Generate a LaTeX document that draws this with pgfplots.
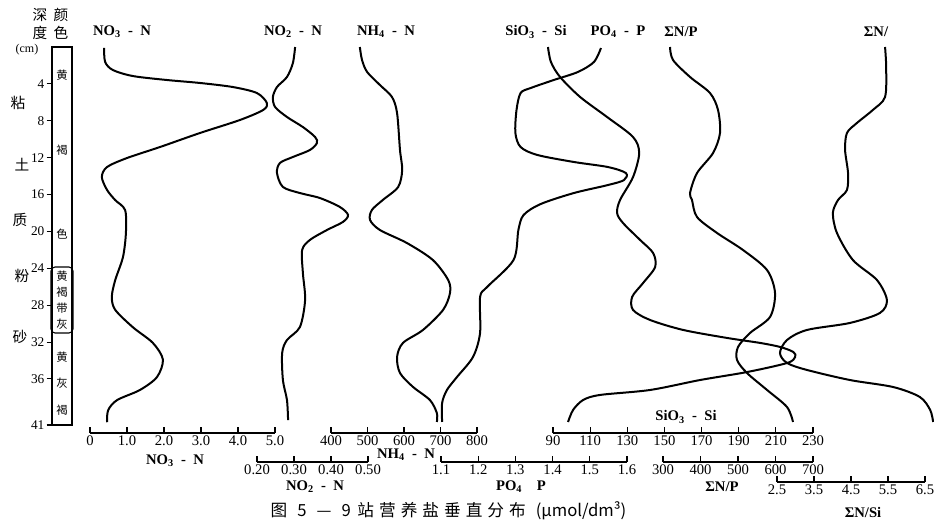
\documentclass[border=0pt]{standalone}
\usepackage{fontspec}
\setmainfont{Liberation Serif}
\newfontfamily\cjk{Noto Sans CJK SC}
\usepackage{pgfplots}
\pgfplotsset{compat=1.18}

% 1 px of the reference = 0.75pt; depth 0 cm at y=47 px, 41 cm at y=425 px
\pgfplotsset{
  prof/.style={scale only axis, hide axis, clip=false, anchor=north west,
    ymin=0, ymax=41, y dir=reverse, height=283.5pt},
  cur/.style={black, line width=1.5pt, smooth, tension=0.5, mark=none},
  scl/.style={scale only axis, clip=false, anchor=south west, height=1pt,
    ymin=0, ymax=1, hide y axis, axis x line*=bottom,
    x axis line style={-, line width=0.9pt}, tick align=inside,
    major tick length=4.5pt, tick style={black, line width=0.9pt},
    xticklabel style={font=\fontsize{11}{13}\selectfont, inner sep=2pt}},
}

\begin{document}
\begin{tikzpicture}

% depth column
\begin{axis}[scale only axis, at={(39pt,-35.25pt)}, anchor=north west,
  width=15pt, height=283.5pt, xmin=0, xmax=1, ymin=0, ymax=41, y dir=reverse,
  xtick=\empty, ytick={4,8,12,16,20,24,28,32,36,41}, ytick pos=left,
  tick align=outside, major tick length=4pt,
  axis line style={line width=0.9pt}, tick style={black, line width=0.8pt},
  yticklabel style={font=\fontsize{10}{12}\selectfont, inner sep=1.5pt},
  /pgf/number format/assume math mode=true]
\end{axis}

% NO3-N
\begin{axis}[prof, at={(67.5pt,-35.25pt)}, width=138.75pt, xmin=0, xmax=5]
\addplot[cur] coordinates {
(0.38,0.1)(0.41,1.63)(0.62,2.5)(1.16,3.15)(2.08,3.58)(2.97,3.9)(3.86,4.34)
(4.51,4.99)(4.78,6.07)(4.68,6.83)(4.05,7.92)(2.97,9.33)(1.89,10.85)(1.0,12.04)
(0.46,13.02)(0.32,14.1)(0.46,15.5)(0.68,16.6)(0.95,17.7)(0.97,20.2)(0.89,22.8)
(0.68,25.3)(0.59,27.1)(0.68,28.5)(1.16,30.4)(1.70,32.1)(1.97,33.9)(1.81,35.8)
(1.35,37.2)(0.73,38.3)(0.49,39.4)(0.46,40.7)};
\end{axis}

% NO2-N
\begin{axis}[prof, at={(192.75pt,-35.25pt)}, width=83.25pt, xmin=0.2, xmax=0.5]
\addplot[cur] coordinates {
(0.303,0)(0.297,1.74)(0.281,3.25)(0.254,4.34)(0.243,5.42)(0.249,6.51)(0.281,7.59)
(0.324,8.68)(0.357,9.76)(0.362,10.41)(0.343,11.17)(0.297,11.93)(0.262,12.58)
(0.254,13.67)(0.270,15.18)(0.316,15.84)(0.370,16.38)(0.424,17.35)(0.446,18.22)
(0.432,18.98)(0.389,19.85)(0.343,20.93)(0.322,22.02)(0.324,24.51)(0.330,27.44)
(0.316,30.37)(0.281,31.78)(0.268,33.19)(0.270,36.12)(0.281,38.29)(0.284,40.46)};
\end{axis}

% NH4-N
\begin{axis}[prof, at={(248.25pt,-35.25pt)}, width=109.5pt, xmin=400, xmax=800]
\addplot[cur] coordinates {
(479,0)(485,1.41)(499,2.71)(534,4.12)(567,5.42)(581,7.16)(589,11.17)(595,13.34)
(584,15.18)(542,16.59)(512,17.68)(507,18.76)(534,19.85)(608,21.26)(679,23.10)
(721,25.27)(726,26.68)(707,28.52)(652,30.69)(597,32.10)(581,33.62)(589,35.36)
(625,36.88)(671,38.29)(690,39.70)(690,40.67)};
\end{axis}

% PO4-P
\begin{axis}[prof, at={(330.75pt,-35.25pt)}, width=139.5pt, xmin=1.1, xmax=1.6]
\addplot[cur] coordinates {
(1.530,0.11)(1.511,1.63)(1.468,2.71)(1.403,3.58)(1.341,4.45)(1.314,4.99)
(1.303,6.83)(1.300,9.33)(1.314,10.85)(1.359,11.71)(1.457,12.47)(1.549,13.02)
(1.597,13.67)(1.592,14.43)(1.549,14.97)(1.457,15.84)(1.368,17.03)(1.322,18.22)
(1.308,19.85)(1.295,23.10)(1.224,26.03)(1.205,27.11)(1.205,31.02)(1.186,33.62)
(1.143,35.79)(1.116,37.20)(1.103,38.61)(1.103,40.67)};
\end{axis}

% SiO3-Si
\begin{axis}[prof, at={(414.75pt,-35.25pt)}, width=195pt, xmin=90, xmax=230]
\addplot[cur] coordinates {
(87.3,0)(88.9,1.63)(93.8,3.25)(104.6,5.42)(119.1,7.59)(133.1,9.76)(136.4,11.50)
(133.1,14.10)(126.1,16.59)(124.5,18.0)(127.7,19.09)(136.9,20.93)(143.9,22.34)
(145.0,23.86)(138.5,25.60)(132.6,27.11)(133.1,28.52)(142.3,29.61)(160.1,30.69)
(183.8,31.56)(201.6,32.10)(212.4,32.54)(219.4,33.08)(220.4,33.62)(216.1,34.27)
(194.6,35.25)(169.2,36.12)(142.3,37.20)(115.3,37.74)(106.2,38.29)(100.8,39.37)
(98.1,40.67)};
\end{axis}

% SumN/P
\begin{axis}[prof, at={(497.25pt,-35.25pt)}, width=112.5pt, xmin=300, xmax=700]
\addplot[cur] coordinates {
(318.7,0)(326.7,1.41)(372,3.25)(425.3,4.99)(446.7,6.83)(452,9.33)(433.4,11.50)
(390.7,13.67)(372,15.84)(377.3,16.59)(390.7,18.44)(444,20.17)(513.4,22.02)
(577.4,24.19)(598.7,26.68)(585.4,29.28)(532,31.02)(500,32.54)(497.4,33.95)
(524,35.36)(577.4,37.20)(630.7,39.05)(646.7,40.67)};
\end{axis}

% SumN/Si
\begin{axis}[prof, at={(582.75pt,-35.25pt)}, width=111pt, xmin=2.5, xmax=6.5]
\addplot[cur] coordinates {
(5.42,0)(5.45,2.17)(5.42,5.42)(5.09,6.83)(4.66,8.24)(4.39,9.33)(4.34,11.17)
(4.42,13.67)(4.39,15.51)(4.15,16.59)(4.01,18.0)(4.12,20.17)(4.55,23.10)
(5.20,25.27)(5.47,27.44)(5.28,28.85)(4.47,29.93)(3.31,30.69)(2.77,31.78)
(2.58,33.19)(2.77,34.27)(3.31,35.03)(4.47,36.12)(5.64,36.88)(6.36,37.96)
(6.64,39.37)(6.72,40.67)};
\end{axis}

% bottom scales
\begin{axis}[scl, at={(67.5pt,-324.75pt)}, width=138.75pt, xmin=0, xmax=5,
  xtick={0,1,2,3,4,5}, xticklabels={0,1.0,2.0,3.0,4.0,5.0}]
\end{axis}
\begin{axis}[scl, at={(248.25pt,-324.75pt)}, width=109.5pt, xmin=400, xmax=800,
  xtick={400,500,600,700,800}, xticklabels={400,500,600,700,800}]
\end{axis}
\begin{axis}[scl, at={(414.75pt,-324.75pt)}, width=195pt, xmin=90, xmax=230,
  xtick={90,110,130,150,170,190,210,230},
  xticklabels={90,110,130,150,170,190,210,230}]
\end{axis}
\begin{axis}[scl, at={(192.75pt,-346.5pt)}, width=83.25pt, xmin=0.2, xmax=0.5,
  xtick={0.2,0.3,0.4,0.5}, xticklabels={0.20,0.30,0.40,0.50}]
\end{axis}
\begin{axis}[scl, at={(330.75pt,-346.5pt)}, width=139.5pt, xmin=1.1, xmax=1.6,
  xtick={1.1,1.2,1.3,1.4,1.5,1.6}, xticklabels={1.1,1.2,1.3,1.4,1.5,1.6}]
\end{axis}
\begin{axis}[scl, at={(497.25pt,-346.5pt)}, width=112.5pt, xmin=300, xmax=700,
  xtick={300,400,500,600,700}, xticklabels={300,400,500,600,700}]
\end{axis}
\begin{axis}[scl, at={(582.75pt,-361.5pt)}, width=111pt, xmin=2.5, xmax=6.5,
  xtick={2.5,3.5,4.5,5.5,6.5}, xticklabels={2.5,3.5,4.5,5.5,6.5}]
\end{axis}

% texts, in reference pixels
\begin{scope}[x=0.75pt, y=-0.75pt]
  \begin{scope}[font=\fontsize{11}{13}\selectfont\bfseries]
    \node at (122,32) {NO\textsubscript{3}\enspace-\enspace N};
    \node at (293,32) {NO\textsubscript{2}\enspace-\enspace N};
    \node at (386,32) {NH\textsubscript{4}\enspace-\enspace N};
    \node at (536,32) {SiO\textsubscript{3}\enspace-\enspace Si};
    \node at (618,32) {PO\textsubscript{4}\enspace-\enspace P};
    \node at (681,32) {ΣN/P};
    \node at (876,32) {ΣN/};
    \node at (175,461) {NO\textsubscript{3}\enspace-\enspace N};
    \node at (406,455) {NH\textsubscript{4}\enspace-\enspace N};
    \node at (315,487) {NO\textsubscript{2}\enspace-\enspace N};
    \node at (521,487) {PO\textsubscript{4}\quad P};
    \node at (722,487) {ΣN/P};
    \node at (686,417) {SiO\textsubscript{3}\enspace-\enspace Si};
    \node at (863,512) {ΣN/Si};
  \end{scope}
  \begin{scope}[font=\cjk\fontsize{11}{13}\selectfont]
    \node at (40,15) {深};
    \node at (40,33) {度};
    \node at (61,15) {颜};
    \node at (61,33) {色};
    \node at (18,103) {粘};
    \node at (22,165) {土};
    \node at (20,220) {质};
    \node at (22,276) {粉};
    \node at (20,337) {砂};
  \end{scope}
  \node[font=\fontsize{9}{11}\selectfont] at (27,50) {(cm)};
  \draw[line width=0.8pt, rounded corners=3pt] (51,267) rectangle (73,333);
  \begin{scope}[font=\cjk\fontsize{8.5}{10}\selectfont]
    \node at (62,75) {黄};
    \node at (62,150) {褐};
    \node at (62,234) {色};
    \node at (62,276) {黄};
    \node at (62,292) {褐};
    \node at (62,308) {带};
    \node at (62,324) {灰};
    \node at (62,357) {黄};
    \node at (62,383) {灰};
    \node at (62,410) {褐};
  \end{scope}
  \node[anchor=west, font=\cjk\fontsize{12.5}{14}\selectfont] at (266,511)
    {图\hspace{0.6em}5\hspace{0.6em}—\hspace{0.6em}9\hspace{0.4em}站\hspace{0.3em}营\hspace{0.3em}养\hspace{0.3em}盐\hspace{0.3em}垂\hspace{0.3em}直\hspace{0.3em}分\hspace{0.3em}布\hspace{0.6em}(μmol/dm³)};
\end{scope}

\pgfresetboundingbox
\useasboundingbox (0,0) rectangle (700.5pt,-391.5pt);
\end{tikzpicture}
\end{document}
